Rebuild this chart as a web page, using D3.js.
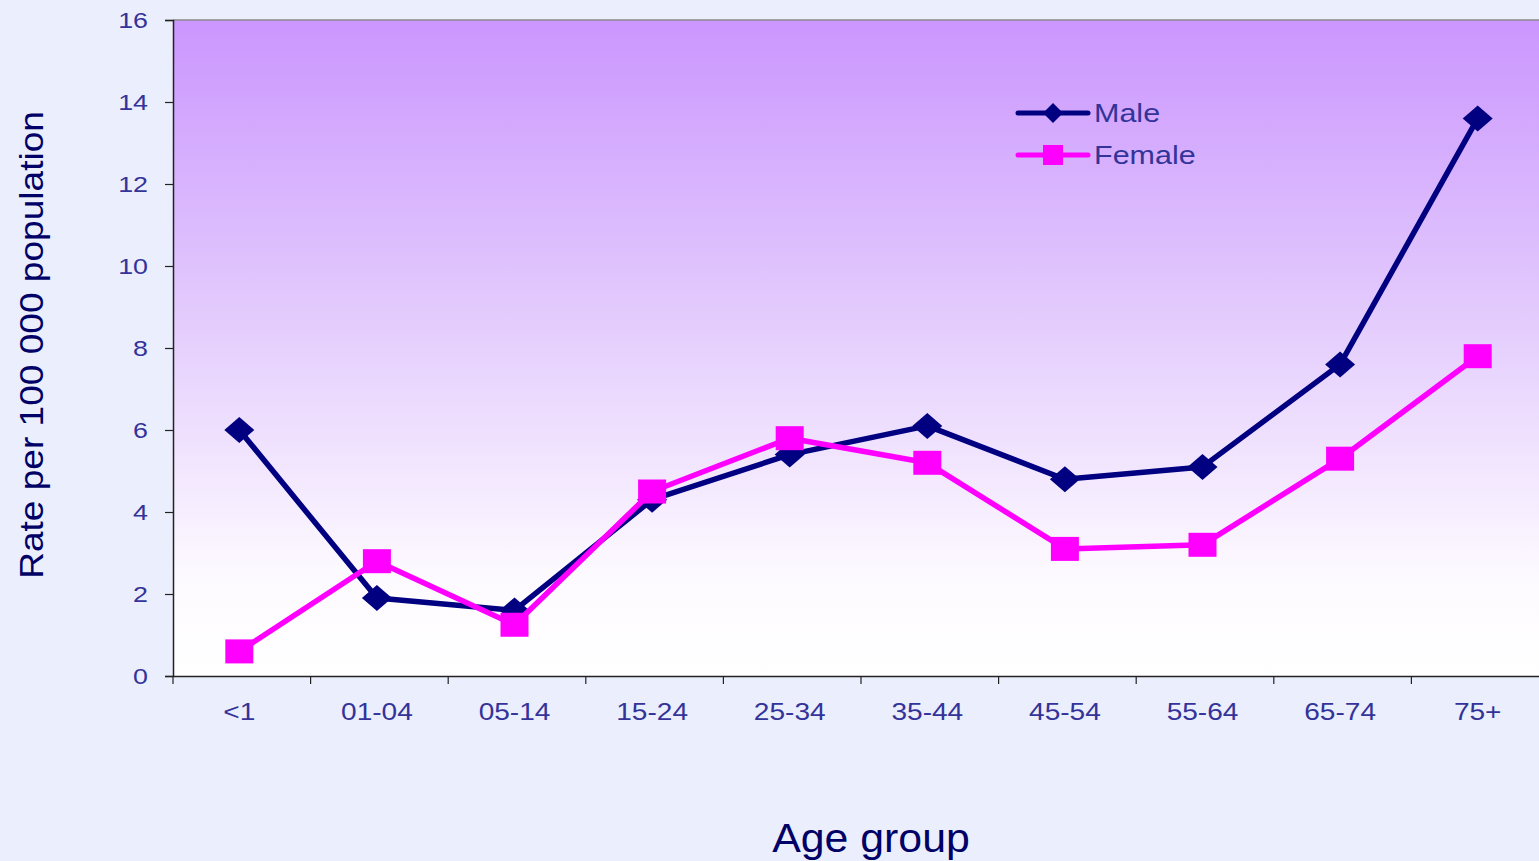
<!DOCTYPE html>
<html>
<head>
<meta charset="utf-8">
<script src="https://cdn.jsdelivr.net/npm/d3@7"></script>
<style>
  body { margin: 0; background: #ebeefc; overflow: hidden; }
  svg { display: block; font-family: "Liberation Sans", Arial, sans-serif; }
</style>
</head>
<body>
<svg id="chart" width="1539" height="861"></svg>
<script>
  const ageGroups = ["<1", "01-04", "05-14", "15-24", "25-34", "35-44", "45-54", "55-64", "65-74", "75+"];
  const maleRates = [6.0, 1.9, 1.6, 4.3, 5.4, 6.1, 4.8, 5.1, 7.6, 13.6];
  const femaleRates = [0.6, 2.8, 1.25, 4.5, 5.8, 5.2, 3.1, 3.2, 5.3, 7.8];
  const yTicks = [0, 2, 4, 6, 8, 10, 12, 14, 16];

  const margin = { top: 20, left: 173, bottom: 185 };
  const width = 1539, height = 861;
  const plotRight = 1549;
  const STRETCH = 1.22; // the original text looks widened

  const svg = d3.select("#chart");

  // widen text along its baseline
  function stretch(sel, k) {
    sel.each(function () {
      const len = this.getComputedTextLength();
      d3.select(this).attr("textLength", len * k).attr("lengthAdjust", "spacingAndGlyphs");
    });
  }

  // background gradient for the plot area
  const grad = svg.append("defs").append("linearGradient")
    .attr("id", "plotBg").attr("x1", 0).attr("y1", 0).attr("x2", 0).attr("y2", 1);
  grad.append("stop").attr("offset", "0%").attr("stop-color", "#cb96fe");
  grad.append("stop").attr("offset", "45%").attr("stop-color", "#e3cbfd");
  grad.append("stop").attr("offset", "85%").attr("stop-color", "#fdfaff");
  grad.append("stop").attr("offset", "100%").attr("stop-color", "#ffffff");

  const x = d3.scaleBand().domain(ageGroups).range([margin.left, plotRight]);
  const y = d3.scaleLinear().domain([0, 16]).range([height - margin.bottom, margin.top]);

  svg.append("rect")
    .attr("x", margin.left).attr("y", margin.top)
    .attr("width", plotRight - margin.left)
    .attr("height", y(0) - margin.top)
    .attr("fill", "url(#plotBg)");

  // top border
  svg.append("line")
    .attr("x1", margin.left).attr("x2", plotRight)
    .attr("y1", margin.top).attr("y2", margin.top)
    .attr("stroke", "#8a8a8a").attr("stroke-width", 1.5);

  // y axis
  const yAxis = svg.append("g")
    .attr("transform", `translate(${margin.left},0)`)
    .call(d3.axisLeft(y).tickValues(yTicks).tickSize(8).tickPadding(17));
  yAxis.select(".domain").attr("stroke", "#222").attr("stroke-width", 1.5);
  yAxis.selectAll(".tick line").attr("stroke", "#222").attr("stroke-width", 1.2);
  yAxis.selectAll(".tick text")
    .attr("fill", "#333399").attr("font-size", 22)
    .attr("dy", "0.36em")
    .call(stretch, STRETCH);

  // x axis: ticks sit at band edges
  const xAxis = svg.append("g")
    .attr("transform", `translate(0,${y(0)})`)
    .call(d3.axisBottom(x).tickSize(0).tickPadding(28));
  xAxis.select(".domain").attr("stroke", "#222").attr("stroke-width", 1.5);
  xAxis.selectAll(".tick text")
    .attr("fill", "#333399").attr("font-size", 23)
    .attr("x", -2.5)
    .call(stretch, STRETCH);
  xAxis.selectAll(".edge")
    .data(ageGroups)
    .enter().append("line")
    .attr("x1", d => x(d)).attr("x2", d => x(d))
    .attr("y1", 0).attr("y2", 8)
    .attr("stroke", "#222").attr("stroke-width", 1.2);

  const cx = d => x(d) + x.bandwidth() / 2 - 2.5;
  const line = d3.line().x(d => cx(d.group)).y(d => y(d.value));

  const series = [
    { name: "Male", values: maleRates, color: "#000080", symbol: "diamond" },
    { name: "Female", values: femaleRates, color: "#ff00ff", symbol: "square" }
  ];

  const drawMarker = (g, s, px, py) => {
    if (s.symbol === "diamond") {
      g.append("path")
        .attr("d", `M${px},${py - 13}L${px + 15},${py}L${px},${py + 13}L${px - 15},${py}Z`)
        .attr("fill", s.color);
    } else {
      g.append("rect")
        .attr("x", px - 14).attr("y", py - 12).attr("width", 28).attr("height", 24)
        .attr("fill", s.color);
    }
  };

  series.forEach(s => {
    const pts = ageGroups.map((g, i) => ({ group: g, value: s.values[i] }));
    const g = svg.append("g");
    g.append("path")
      .datum(pts)
      .attr("d", line)
      .attr("fill", "none")
      .attr("stroke", s.color)
      .attr("stroke-width", 5.5)
      .attr("stroke-linejoin", "round");
    pts.forEach(p => drawMarker(g, s, cx(p.group), y(p.value)));
  });

  // legend
  const legend = svg.append("g").attr("transform", "translate(1018,113)");
  series.forEach((s, i) => {
    const row = legend.append("g").attr("transform", `translate(0,${i * 42})`);
    row.append("line")
      .attr("x1", 0).attr("x2", 70).attr("y1", 0).attr("y2", 0)
      .attr("stroke", s.color).attr("stroke-width", 5).attr("stroke-linecap", "round");
    if (s.symbol === "diamond") {
      row.append("path").attr("d", "M35,-10L45,0L35,10L25,0Z").attr("fill", s.color);
    } else {
      row.append("rect").attr("x", 25).attr("y", -10).attr("width", 20).attr("height", 20).attr("fill", s.color);
    }
    row.append("text")
      .attr("x", 76).attr("y", 9)
      .attr("fill", "#333399").attr("font-size", 25)
      .text(s.name)
      .call(stretch, STRETCH);
  });

  // axis titles
  svg.append("text")
    .attr("transform", "translate(43,345) rotate(-90)")
    .attr("text-anchor", "middle")
    .attr("fill", "#000066").attr("font-size", 34)
    .text("Rate per 100 000 population")
    .call(stretch, 1.09);

  svg.append("text")
    .attr("x", 871).attr("y", 852)
    .attr("text-anchor", "middle")
    .attr("fill", "#000066").attr("font-size", 40)
    .text("Age group")
    .call(stretch, 1.07);
</script>
</body>
</html>
